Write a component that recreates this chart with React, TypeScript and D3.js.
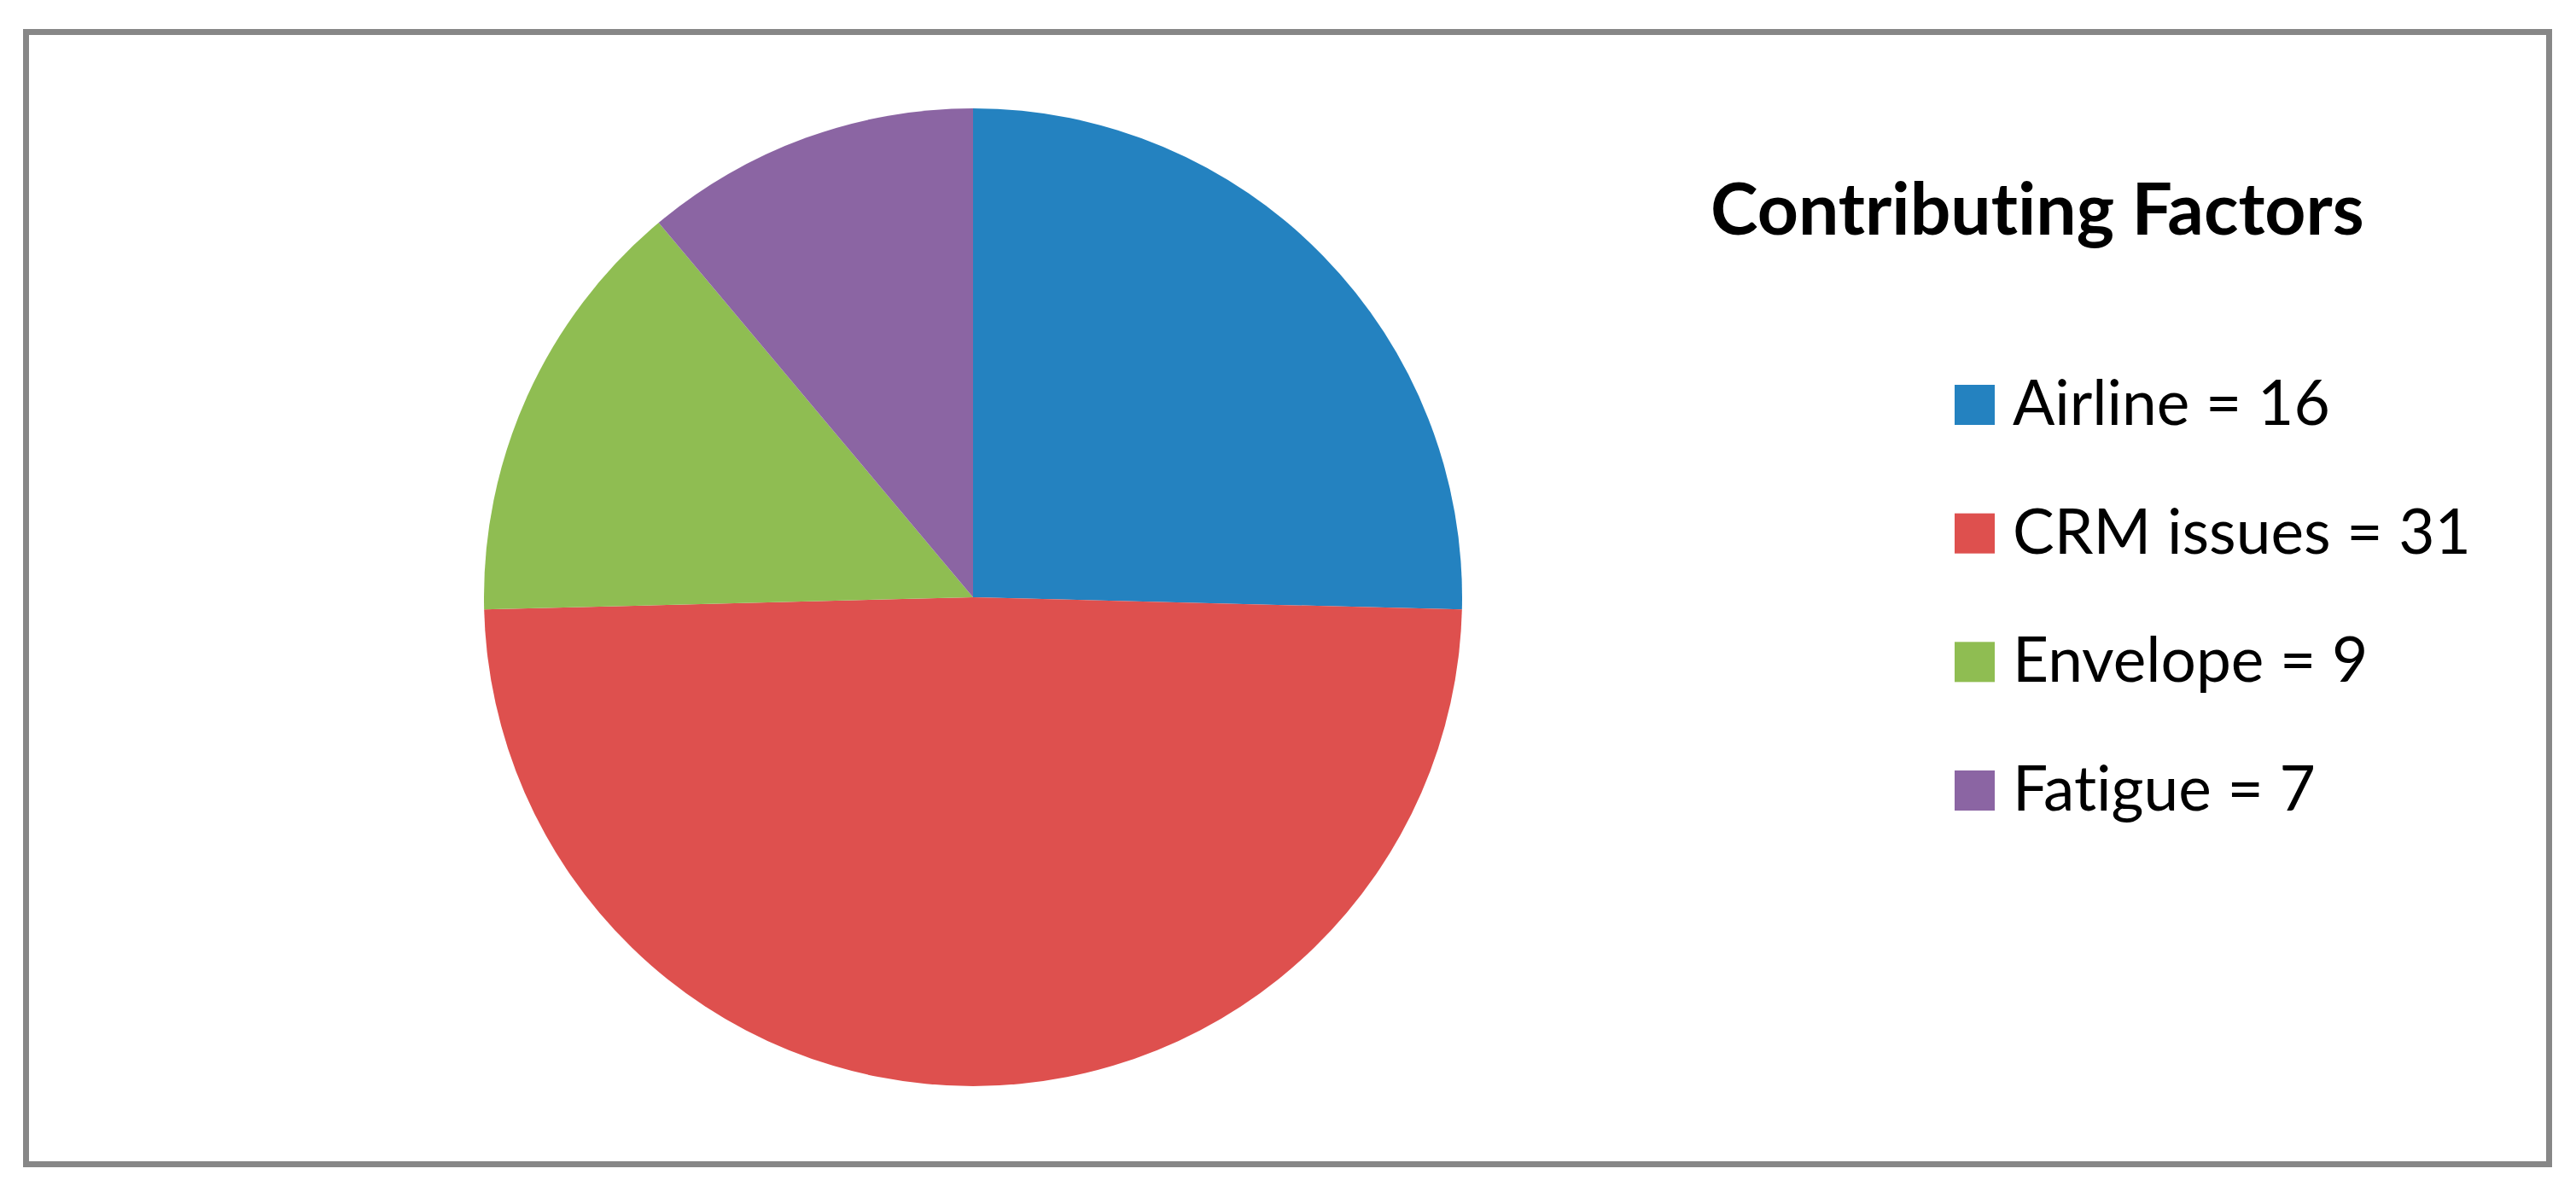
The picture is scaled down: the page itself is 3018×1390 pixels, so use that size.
import React from 'react';
import * as d3 from 'd3';

const categories = ['Airline', 'CRM issues', 'Envelope', 'Fatigue'];
const counts = [16, 31, 9, 7];
const colors = ['#2482C0', '#DE504E', '#8FBD52', '#8B65A3'];
const legendTitle = 'Contributing Factors';

const W = 3018;
const H = 1390;

export default function App() {
  const cx = 1140;
  const cy = 700;
  const radius = 573;

  const data = categories.map((c, i) => ({ name: c, value: counts[i], color: colors[i] }));
  const pie = d3.pie<any>().value(d => d.value).sort(null);
  const arc = d3.arc<any>().innerRadius(0).outerRadius(radius);
  const arcs = pie(data);

  // legend rows, swatch tops
  const legendY = d3
    .scalePoint<string>()
    .domain(categories)
    .range([451, 903]);
  const sw = 47;

  return (
    <svg
      width={W}
      height={H}
      style={{ position: 'absolute', left: 0, top: 0, background: '#fff', fontVariantLigatures: 'none' }}
      fontFamily="Lato, 'Open Sans', sans-serif"
    >
      <rect x={30.5} y={37.5} width={2956} height={1327} fill="#fff" stroke="#878787" strokeWidth={7} />
      <g transform={`translate(${cx},${cy})`}>
        {arcs.map(a => (
          <path key={a.data.name} d={arc(a) as string} fill={a.data.color} />
        ))}
      </g>
      <text x={2004} y={275} fontSize={84} fontWeight="bold" fill="#000">
        {legendTitle}
      </text>
      {data.map(d => {
        const y = legendY(d.name) as number;
        return (
          <g key={d.name}>
            <rect x={2290} y={y} width={sw} height={sw} fill={d.color} />
            <text x={2358} y={y + sw} fontSize={73} fill="#000">
              {`${d.name} = ${d.value}`}
            </text>
          </g>
        );
      })}
    </svg>
  );
}
